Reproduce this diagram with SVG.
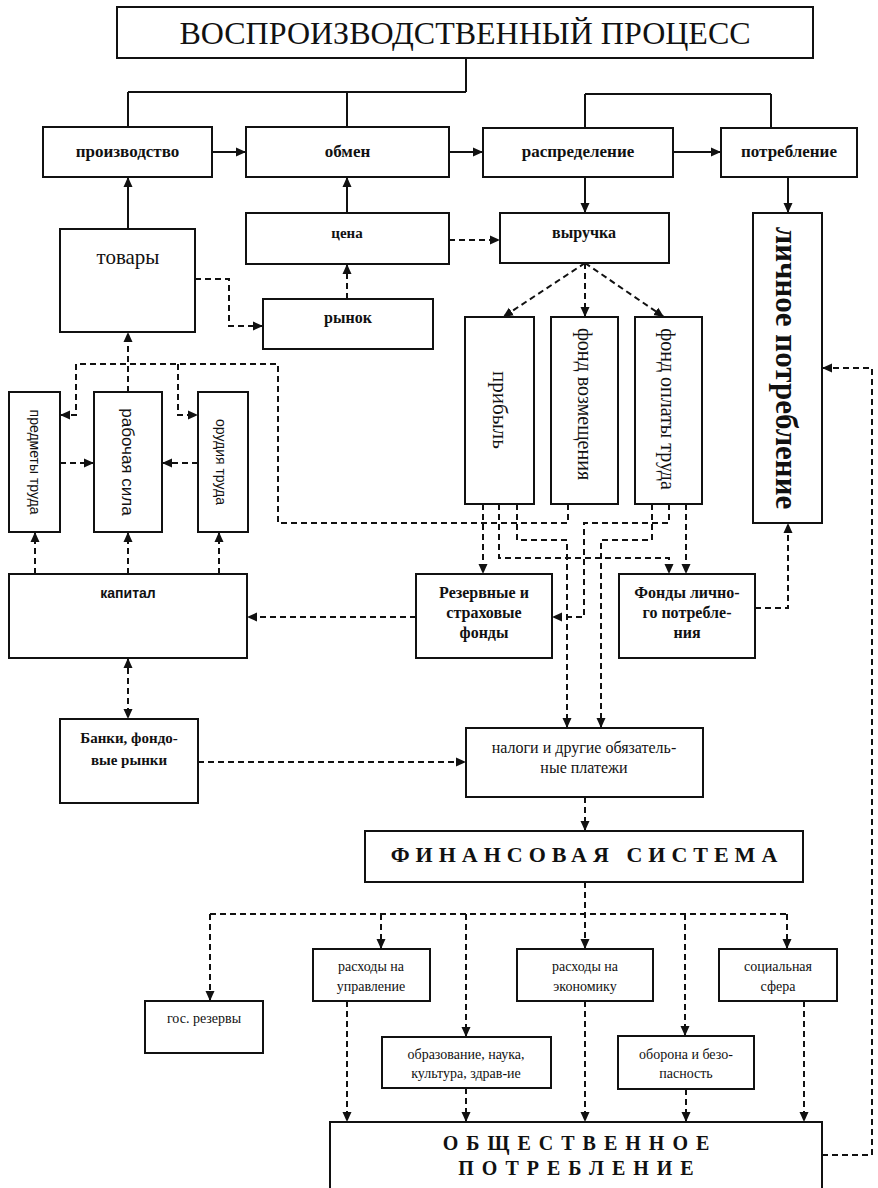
<svg xmlns="http://www.w3.org/2000/svg" width="878" height="1188" viewBox="0 0 878 1188">
<defs>
<style>
.b{fill:#fff;stroke:#111;stroke-width:2}
.s{fill:none;stroke:#111;stroke-width:2}
.d{fill:none;stroke:#111;stroke-width:2;stroke-dasharray:6 4}
.t{font-family:"Liberation Serif","Times New Roman",serif;fill:#111;text-anchor:middle}
.tb{font-family:"Liberation Serif","Times New Roman",serif;fill:#111;text-anchor:middle;font-weight:bold}
.ts{font-family:"Liberation Sans",Arial,sans-serif;fill:#111;text-anchor:middle}
</style>
<marker id="a" markerWidth="10" markerHeight="10" refX="10" refY="5" orient="auto-start-reverse" markerUnits="userSpaceOnUse">
<path d="M0,0.5 L10,5 L0,9.5 z" fill="#111"/>
</marker>
</defs>
<rect width="878" height="1188" fill="#fff"/>

<g id="connectors">
<path class="s" d="M466,58 V92 M128,92 H466 M128,92 V127 M347,92 V127"/>
<path class="s" d="M585,94 H771 M585,94 V128 M771,94 V128"/>
<path class="s" d="M212,152 H246" marker-end="url(#a)"/>
<path class="s" d="M449,152 H483" marker-end="url(#a)"/>
<path class="s" d="M673,152 H721" marker-end="url(#a)"/>
<path class="s" d="M128,229 V177" marker-end="url(#a)"/>
<path class="s" d="M347,212 V177" marker-end="url(#a)"/>
<path class="s" d="M585,177 V213" marker-end="url(#a)"/>
<path class="s" d="M788,177 V213" marker-end="url(#a)"/>

<path class="d" d="M347,299 V264" marker-end="url(#a)"/>
<path class="d" d="M195,279 H229 V326 H263" marker-end="url(#a)"/>
<path class="d" d="M449,240 H500" marker-end="url(#a)"/>
<path class="d" d="M585,263 L503,317" marker-end="url(#a)"/>
<path class="d" d="M585,263 V317" marker-end="url(#a)"/>
<path class="d" d="M585,263 L664,317" marker-end="url(#a)"/>

<path class="d" d="M128,392 V332" marker-end="url(#a)"/>
<path class="d" d="M568,504 V523 H278 V364 H76 V415 H60" marker-end="url(#a)"/>
<path class="d" d="M178,364 V415 H198" marker-end="url(#a)"/>
<path class="d" d="M60,463 H94" marker-end="url(#a)"/>
<path class="d" d="M198,463 H162" marker-end="url(#a)"/>
<path class="d" d="M35,574 V532" marker-end="url(#a)"/>
<path class="d" d="M128,574 V532" marker-end="url(#a)"/>
<path class="d" d="M219,574 V532" marker-end="url(#a)"/>
<path class="d" d="M416,617 H247" marker-end="url(#a)"/>
<path class="d" d="M128,658 V719" marker-start="url(#a)" marker-end="url(#a)"/>
<path class="d" d="M198,762 H466" marker-end="url(#a)"/>

<path class="d" d="M483,504 V574" marker-end="url(#a)"/>
<path class="d" d="M499,504 V558 H669 V574" marker-end="url(#a)"/>
<path class="d" d="M517,504 V540 H567 V728" marker-end="url(#a)"/>
<path class="d" d="M652,504 V540 H601 V728" marker-end="url(#a)"/>
<path class="d" d="M669,504 V523 H584 V617 H552" marker-end="url(#a)"/>
<path class="d" d="M686,504 V574" marker-end="url(#a)"/>
<path class="d" d="M755,608 H788 V523" marker-end="url(#a)"/>
<path class="d" d="M822,1155 H872 V368 H822" marker-end="url(#a)"/>

<path class="d" d="M585,797 V831" marker-end="url(#a)"/>
<path class="d" d="M585,882 V949" marker-end="url(#a)"/>
<path class="d" d="M210,914 H787"/>
<path class="d" d="M210,914 V1001" marker-end="url(#a)"/>
<path class="d" d="M381,914 V949" marker-end="url(#a)"/>
<path class="d" d="M466,914 V1037" marker-end="url(#a)"/>
<path class="d" d="M685,914 V1036" marker-end="url(#a)"/>
<path class="d" d="M787,914 V949" marker-end="url(#a)"/>
<path class="d" d="M347,1001 V1122" marker-end="url(#a)"/>
<path class="d" d="M466,1088 V1122" marker-end="url(#a)"/>
<path class="d" d="M585,1001 V1122" marker-end="url(#a)"/>
<path class="d" d="M686,1089 V1122" marker-end="url(#a)"/>
<path class="d" d="M804,1001 V1122" marker-end="url(#a)"/>
</g>

<g id="title"><rect class="b" x="117" y="7" width="696" height="51"/>
<text class="t" x="465" y="44" font-size="32">ВОСПРОИЗВОДСТВЕННЫЙ ПРОЦЕСС</text></g>

<g id="proizvodstvo"><rect class="b" x="43" y="127" width="169" height="50"/>
<text class="tb" x="127.5" y="157" font-size="17">производство</text></g>
<g id="obmen"><rect class="b" x="246" y="127" width="203" height="50"/>
<text class="tb" x="347.5" y="157" font-size="17">обмен</text></g>
<g id="raspredelenie"><rect class="b" x="483" y="128" width="190" height="49"/>
<text class="tb" x="578" y="157" font-size="17">распределение</text></g>
<g id="potreblenie"><rect class="b" x="721" y="128" width="136" height="49"/>
<text class="tb" x="789" y="157" font-size="17">потребление</text></g>

<g id="tovary"><rect class="b" x="60" y="229" width="135" height="103"/>
<text class="t" x="128" y="264" font-size="21">товары</text></g>
<g id="cena"><rect class="b" x="246" y="213" width="203" height="51"/>
<text class="tb" x="347" y="238" font-size="15">цена</text></g>
<g id="rynok"><rect class="b" x="263" y="299" width="170" height="50"/>
<text class="tb" x="348" y="323" font-size="16">рынок</text></g>
<g id="vyruchka"><rect class="b" x="500" y="213" width="169" height="50"/>
<text class="tb" x="584" y="238" font-size="16">выручка</text></g>

<g id="lichnoe"><rect class="b" x="753" y="213" width="69" height="310"/>
<text class="tb" transform="translate(787,368) rotate(90)" y="11" font-size="31">личное потребление</text></g>

<g id="pribyl"><rect class="b" x="465" y="317" width="69" height="187"/>
<text class="t" transform="translate(500,410) rotate(90)" y="7" font-size="21">прибыль</text></g>
<g id="fond-vozm"><rect class="b" x="551" y="317" width="67" height="187"/>
<text class="t" transform="translate(585,404) rotate(90)" y="7" font-size="20">фонд возмещения</text></g>
<g id="fond-oplaty"><rect class="b" x="635" y="317" width="67" height="187"/>
<text class="t" transform="translate(668,409) rotate(90)" y="7" font-size="20">фонд оплаты труда</text></g>

<g id="predmety"><rect class="b" x="9" y="392" width="51" height="140"/>
<text class="ts" transform="translate(35,462) rotate(90)" y="5" font-size="14">предметы труда</text></g>
<g id="rabochaya"><rect class="b" x="94" y="392" width="68" height="140"/>
<text class="ts" transform="translate(128,462) rotate(90)" y="6" font-size="17">рабочая сила</text></g>
<g id="orudiya"><rect class="b" x="198" y="392" width="50" height="140"/>
<text class="ts" transform="translate(221,462) rotate(90)" y="5" font-size="14">орудия труда</text></g>

<g id="kapital"><rect class="b" x="9" y="574" width="238" height="84"/>
<text class="ts" x="128" y="598" font-size="14" font-weight="bold">капитал</text></g>

<g id="rezervnye"><rect class="b" x="416" y="574" width="136" height="84"/>
<text class="tb" font-size="16"><tspan x="484" y="598">Резервные и</tspan><tspan x="484" y="618">страховые</tspan><tspan x="484" y="638">фонды</tspan></text></g>
<g id="fondy-lichnogo"><rect class="b" x="619" y="574" width="136" height="84"/>
<text class="tb" font-size="16"><tspan x="687" y="598">Фонды лично-</tspan><tspan x="687" y="618">го потребле-</tspan><tspan x="687" y="638">ния</tspan></text></g>

<g id="banki"><rect class="b" x="60" y="719" width="138" height="84"/>
<text class="tb" font-size="15"><tspan x="129" y="743">Банки, фондо-</tspan><tspan x="129" y="765">вые рынки</tspan></text></g>
<g id="nalogi"><rect class="b" x="466" y="728" width="237" height="69"/>
<text class="t" font-size="16"><tspan x="584" y="753">налоги и другие обязатель-</tspan><tspan x="584" y="773">ные платежи</tspan></text></g>

<g id="fin-sistema"><rect class="b" x="365" y="831" width="438" height="51"/>
<text class="tb" x="587" y="862" font-size="22" letter-spacing="6">ФИНАНСОВАЯ СИСТЕМА</text></g>

<g id="gos-rezervy"><rect class="b" x="145" y="1001" width="118" height="52"/>
<text class="t" x="204" y="1023" font-size="14">гос. резервы</text></g>
<g id="upravlenie"><rect class="b" x="313" y="949" width="117" height="52"/>
<text class="t" font-size="14"><tspan x="371" y="971">расходы на</tspan><tspan x="371" y="991">управление</tspan></text></g>
<g id="obrazovanie"><rect class="b" x="382" y="1037" width="169" height="51"/>
<text class="t" font-size="14"><tspan x="466" y="1059">образование, наука,</tspan><tspan x="466" y="1078">культура, здрав-ие</tspan></text></g>
<g id="ekonomika"><rect class="b" x="517" y="949" width="136" height="52"/>
<text class="t" font-size="14"><tspan x="585" y="971">расходы на</tspan><tspan x="585" y="991">экономику</tspan></text></g>
<g id="oborona"><rect class="b" x="618" y="1036" width="136" height="53"/>
<text class="t" font-size="14"><tspan x="686" y="1059">оборона и безо-</tspan><tspan x="686" y="1078">пасность</tspan></text></g>
<g id="socialnaya"><rect class="b" x="719" y="949" width="118" height="52"/>
<text class="t" font-size="14"><tspan x="778" y="971">социальная</tspan><tspan x="778" y="991">сфера</tspan></text></g>

<g id="obshchestvennoe"><rect class="b" x="330" y="1122" width="492" height="72"/>
<text class="tb" font-size="20" letter-spacing="8"><tspan x="580" y="1150">ОБЩЕСТВЕННОЕ</tspan><tspan x="580" y="1175">ПОТРЕБЛЕНИЕ</tspan></text></g>
</svg>
